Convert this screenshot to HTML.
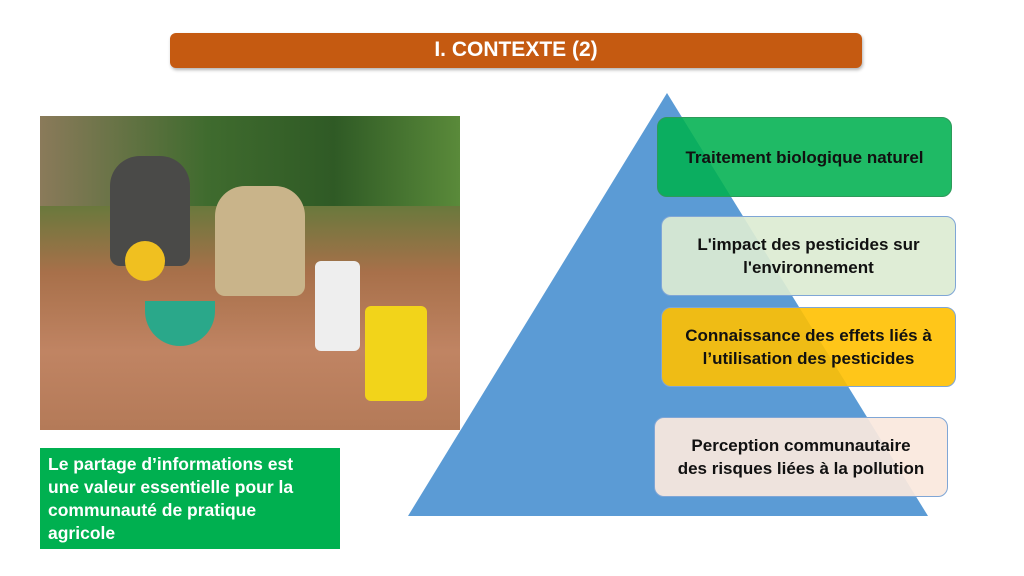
<!DOCTYPE html>
<html><head><meta charset="utf-8"><style>
body{margin:0;width:1024px;height:576px;background:#fff;position:relative;overflow:hidden;font-family:"Liberation Sans",sans-serif}
.t{position:absolute;left:170px;top:33px;width:692px;height:35px;background:#c55a11;border-radius:6px;color:#fff;font-weight:bold;font-size:21px;text-align:center;line-height:33px;box-shadow:1px 2px 3px rgba(0,0,0,.3)}
.b{position:absolute;border-radius:10px;display:flex;align-items:center;justify-content:center;text-align:center;font-weight:bold;font-size:17px;line-height:23px;color:#111;box-sizing:border-box;border:1px solid #7fa6d6}
.photo{position:absolute;left:40px;top:116px;width:420px;height:314px;background:linear-gradient(180deg,#4a5a30 0%,#5f7a3a 25%,#a8704a 50%,#c08463 75%,#b47a58 100%)}
.g{position:absolute;left:40px;top:448px;width:300px;height:101px;background:#00b050;color:#fff;font-weight:bold;font-size:17.5px;line-height:23px;padding:5px 22px 0 8px;box-sizing:border-box}
</style></head><body>
<div class="t">I. CONTEXTE (2)</div>
<div class="photo">
<div style="position:absolute;left:0;top:0;width:420px;height:90px;background:linear-gradient(90deg,#8a7a5a,#3f6b2e 40%,#2f5a25 70%,#5a8a3a)"></div>
<div style="position:absolute;left:70px;top:40px;width:80px;height:110px;background:#4a4a48;border-radius:30px 30px 10px 10px"></div>
<div style="position:absolute;left:175px;top:70px;width:90px;height:110px;background:#c9b48a;border-radius:30px 30px 10px 10px"></div>
<div style="position:absolute;left:85px;top:125px;width:40px;height:40px;background:#f0c020;border-radius:50%"></div>
<div style="position:absolute;left:105px;top:185px;width:70px;height:45px;background:#2aa88a;border-radius:0 0 35px 35px"></div>
<div style="position:absolute;left:275px;top:145px;width:45px;height:90px;background:#eee;border-radius:6px"></div>
<div style="position:absolute;left:325px;top:190px;width:62px;height:95px;background:#f2d41a;border-radius:6px"></div>
</div>
<div class="g">Le partage d’informations est une valeur essentielle pour la communauté de pratique agricole</div>
<svg style="position:absolute;left:0;top:0" width="1024" height="576"><polygon points="667,93 408,516 928,516" fill="#5b9bd5"/></svg>
<div class="b" style="left:657px;top:117px;width:295px;height:80px;background:rgba(0,176,80,.88);border-color:#2e9a5a">Traitement biologique naturel</div>
<div class="b" style="left:661px;top:216px;width:295px;height:80px;background:rgba(220,236,210,.92)">L'impact des pesticides sur<br>l'environnement</div>
<div class="b" style="left:661px;top:307px;width:295px;height:80px;background:rgba(255,192,0,.9)">Connaissance des effets liés à<br>l’utilisation des pesticides</div>
<div class="b" style="left:654px;top:417px;width:294px;height:80px;background:rgba(250,232,222,.93)">Perception communautaire<br>des risques liées à la pollution</div>
</body></html>
